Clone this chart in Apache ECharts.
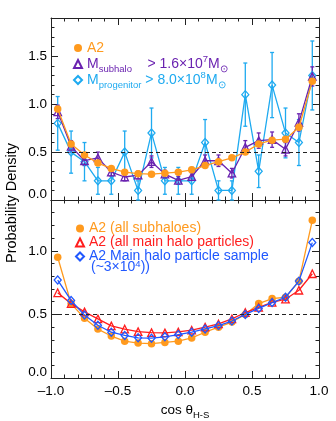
<!DOCTYPE html>
<html>
<head>
<meta charset="utf-8">
<script src="https://cdn.jsdelivr.net/npm/echarts@6/dist/echarts.min.js"></script>
<style>
html, body { margin: 0; padding: 0; background: #fff; }
#chart { width: 336px; height: 421px; }
</style>
</head>
<body>
<div id="chart"></div>
<script>
// bin centres in cos(theta_H-S)
const binCenters = [-0.95, -0.85, -0.75, -0.65, -0.55, -0.45, -0.35, -0.25, -0.15, -0.05,
                    0.05, 0.15, 0.25, 0.35, 0.45, 0.55, 0.65, 0.75, 0.85, 0.95];

// A2, all subhaloes (same curve in both panels)
const a2Subhalo = [0.95, 0.585, 0.47, 0.385, 0.33, 0.29, 0.275, 0.27, 0.28, 0.29,
                   0.315, 0.36, 0.40, 0.44, 0.50, 0.585, 0.625, 0.635, 0.76, 1.24];

// M_subhalo > 1.6e7 Msun
const mSubhalo = [0.92, 0.56, 0.41, 0.44, 0.29, 0.24, 0.26, 0.40, 0.27, 0.205,
                  0.245, 0.41, 0.41, 0.28, 0.55, 0.62, 0.63, 0.53, 0.81, 1.29];
const mSubhaloErr = [0.07, 0.06, 0.05, 0.06, 0.04, 0.04, 0.04, 0.06, 0.04, 0.04,
                     0.04, 0.06, 0.06, 0.05, 0.07, 0.08, 0.08, 0.07, 0.09, 0.10];

// M_progenitor > 8.0e8 Msun
const mProgenitor = [0.8, 0.5, 0.4, 0.2, 0.2, 0.5, 0.1, 0.7, 0.2, 0.2,
                     0.2, 0.6, 0.1, 0.1, 1.1, 0.3, 1.2, 0.7, 0.6, 1.3];
const mProgenitorErr = [0.28, 0.22, 0.20, 0.14, 0.14, 0.22, 0.10, 0.26, 0.14, 0.14,
                        0.14, 0.24, 0.10, 0.10, 0.33, 0.17, 0.34, 0.26, 0.24, 0.36];

// A2, all main halo particles
const mainHaloAll = [0.67, 0.585, 0.52, 0.465, 0.41, 0.385, 0.365, 0.357, 0.355, 0.362,
                     0.376, 0.40, 0.425, 0.465, 0.515, 0.555, 0.595, 0.62, 0.69, 0.82];

// A2, main halo particle sample (~3x10^4)
const mainHaloSample = [0.77, 0.61, 0.495, 0.415, 0.36, 0.335, 0.316, 0.313, 0.324, 0.342,
                        0.36, 0.386, 0.412, 0.448, 0.50, 0.547, 0.593, 0.635, 0.762, 1.065];

const isotropic = 0.5;

const FONT = '"Liberation Sans", Arial, sans-serif';
const INK = '#222';
const ORANGE = '#ff9a1e';
const PURPLE = '#6a22b0';
const CYAN = '#1eaaf0';
const RED = '#ff1e1e';
const BLUE = '#2058ff';

const pairs = ys => binCenters.map((x, i) => [x, ys[i]]);
const ranges = (ys, errs) => binCenters.map((x, i) => [x, ys[i] - errs[i], ys[i] + errs[i]]);

const subRich = {
  sub: { fontSize: 9.5, fontFamily: FONT, verticalAlign: 'bottom', lineHeight: 20 },
  sup: { fontSize: 9.5, fontFamily: FONT, verticalAlign: 'top', lineHeight: 20 },
};

function xAxis(grid, pos, labels) {
  return {
    type: 'value', gridIndex: grid, position: pos,
    min: -1, max: 1, interval: 0.5,
    name: labels ? 'cos θ{sub|H-S}' : '',
    nameLocation: 'middle', nameGap: 22,
    nameTextStyle: { fontFamily: FONT, fontSize: 13.5, color: '#000', lineHeight: 20, rich: subRich },
    axisLine: { show: true, onZero: false, lineStyle: { color: INK, width: 1 } },
    axisTick: { show: true, inside: true, length: 7, lineStyle: { color: INK } },
    minorTick: { show: true, splitNumber: 5, length: 3.5, lineStyle: { color: INK } },
    splitLine: { show: false },
    axisLabel: {
      show: labels, margin: 6, fontFamily: FONT, fontSize: 13.5, color: '#000',
      formatter: v => (v < 0 ? '–' : '') + Math.abs(v).toFixed(1),
    },
  };
}

function yAxis(grid, pos, max, labels) {
  return {
    type: 'value', gridIndex: grid, position: pos,
    min: 0, max: max, interval: 0.5,
    axisLine: { show: true, onZero: false, lineStyle: { color: INK, width: 1 } },
    axisTick: { show: true, inside: true, length: 7, lineStyle: { color: INK } },
    minorTick: { show: true, splitNumber: 5, length: 3.5, lineStyle: { color: INK } },
    splitLine: { show: false },
    axisLabel: {
      show: labels, margin: 4, showMaxLabel: false,
      fontFamily: FONT, fontSize: 13.5, color: '#000',
      formatter: v => (v === 0 ? '{z|0.0}' : v.toFixed(1)),
      rich: { z: { fontFamily: FONT, fontSize: 13.5, color: '#000', padding: [0, 0, 11, 0] } },
    },
  };
}

function errorBars(axis, ys, errs, color) {
  return {
    type: 'custom', xAxisIndex: axis, yAxisIndex: axis, z: 1,
    silent: true,
    encode: { x: 0, y: [1, 2] },
    data: ranges(ys, errs),
    renderItem(params, api) {
      const x = api.value(0);
      const lo = api.coord([x, api.value(1)]);
      const hi = api.coord([x, api.value(2)]);
      const style = { stroke: color, lineWidth: 1.3 };
      return {
        type: 'group',
        children: [
          { type: 'line', shape: { x1: lo[0], y1: lo[1], x2: hi[0], y2: hi[1] }, style },
          { type: 'line', shape: { x1: lo[0] - 2, y1: lo[1], x2: lo[0] + 2, y2: lo[1] }, style },
          { type: 'line', shape: { x1: hi[0] - 2, y1: hi[1], x2: hi[0] + 2, y2: hi[1] }, style },
        ],
      };
    },
  };
}

function curve(name, axis, ys, color, symbol, filled, z) {
  return {
    name, type: 'line', xAxisIndex: axis, yAxisIndex: axis, z,
    data: pairs(ys),
    symbol, symbolSize: symbol === 'diamond' ? [7, 8] : 7.5,
    showAllSymbol: true,
    lineStyle: { color, width: 1.3 },
    itemStyle: filled
      ? { color, borderWidth: 0 }
      : { color: 'rgba(255,255,255,0)', borderColor: color, borderWidth: 1.3 },
    emphasis: { disabled: true },
  };
}

const dashed = {
  silent: true, symbol: 'none', label: { show: false },
  lineStyle: { color: INK, type: [4, 3], width: 1 },
  data: [{ yAxis: isotropic }],
};

const topLabels = {
  'A2': 'A2',
  'Msub': 'M{sub|subhalo}    > 1.6×10{sup|7}M{sub|⊙}',
  'Mprog': 'M{sub|progenitor} > 8.0×10{sup|8}M{sub|⊙}',
};

const chart = echarts.init(document.getElementById('chart'), null, { renderer: 'canvas' });
chart.setOption({
  animation: false,
  textStyle: { fontFamily: FONT },
  grid: [
    { left: 51, right: 17, top: 18, height: 182 },
    { left: 51, right: 17, top: 200, height: 181 },
  ],
  xAxis: [xAxis(0, 'bottom', false), xAxis(0, 'top', false), xAxis(1, 'bottom', true), xAxis(1, 'top', false)],
  yAxis: [yAxis(0, 'left', 1.9, true), yAxis(0, 'right', 1.9, false), yAxis(1, 'left', 1.4, true), yAxis(1, 'right', 1.4, false)],
  legend: [
    {
      orient: 'vertical', left: 68, top: 33, itemWidth: 8, itemHeight: 8, itemGap: -4,
      selectedMode: false,
      formatter: n => topLabels[n],
      textStyle: { fontFamily: FONT, fontSize: 14, lineHeight: 20, rich: subRich },
      data: [
        { name: 'A2', icon: 'circle', textStyle: { color: ORANGE } },
        { name: 'Msub', icon: 'triangle', textStyle: { color: PURPLE } },
        { name: 'Mprog', icon: 'diamond', textStyle: { color: CYAN } },
      ],
    },
    {
      orient: 'vertical', left: 70, top: 215, itemWidth: 8, itemHeight: 8, itemGap: -3,
      selectedMode: false,
      textStyle: { fontFamily: FONT, fontSize: 14, lineHeight: 17 },
      data: [
        { name: 'A2 (all subhaloes)', icon: 'circle', textStyle: { color: ORANGE } },
        { name: 'A2 (all main halo particles)', icon: 'triangle', textStyle: { color: RED } },
        { name: 'A2 Main halo particle sample', icon: 'diamond', textStyle: { color: BLUE } },
      ],
    },
  ],
  graphic: [
    {
      type: 'text', x: 12, y: 203, rotation: Math.PI / 2,
      style: { text: 'Probability Density', font: '14.5px ' + FONT, fill: '#000', align: 'center', verticalAlign: 'middle' },
    },
    {
      type: 'text', x: 91, y: 267,
      style: {
        text: '(~3×10{sup|4}))', font: '14px ' + FONT, fill: BLUE, verticalAlign: 'middle',
        rich: { sup: { fontSize: 9.5, fontFamily: FONT, fill: BLUE, verticalAlign: 'top', lineHeight: 15 } },
        lineHeight: 15,
      },
    },
  ],
  series: [
    // top panel
    errorBars(0, mProgenitor, mProgenitorErr, CYAN),
    curve('Mprog', 0, mProgenitor, CYAN, 'diamond', false, 2),
    errorBars(0, mSubhalo, mSubhaloErr, PURPLE),
    Object.assign(curve('Msub', 0, mSubhalo, PURPLE, 'triangle', false, 3), { markLine: dashed }),
    curve('A2', 0, a2Subhalo, ORANGE, 'circle', true, 4),
    // bottom panel
    Object.assign(curve('A2 (all subhaloes)', 2, a2Subhalo, ORANGE, 'circle', true, 2), { markLine: dashed }),
    curve('A2 (all main halo particles)', 2, mainHaloAll, RED, 'triangle', false, 3),
    curve('A2 Main halo particle sample', 2, mainHaloSample, BLUE, 'diamond', false, 4),
  ],
});
</script>
</body>
</html>
